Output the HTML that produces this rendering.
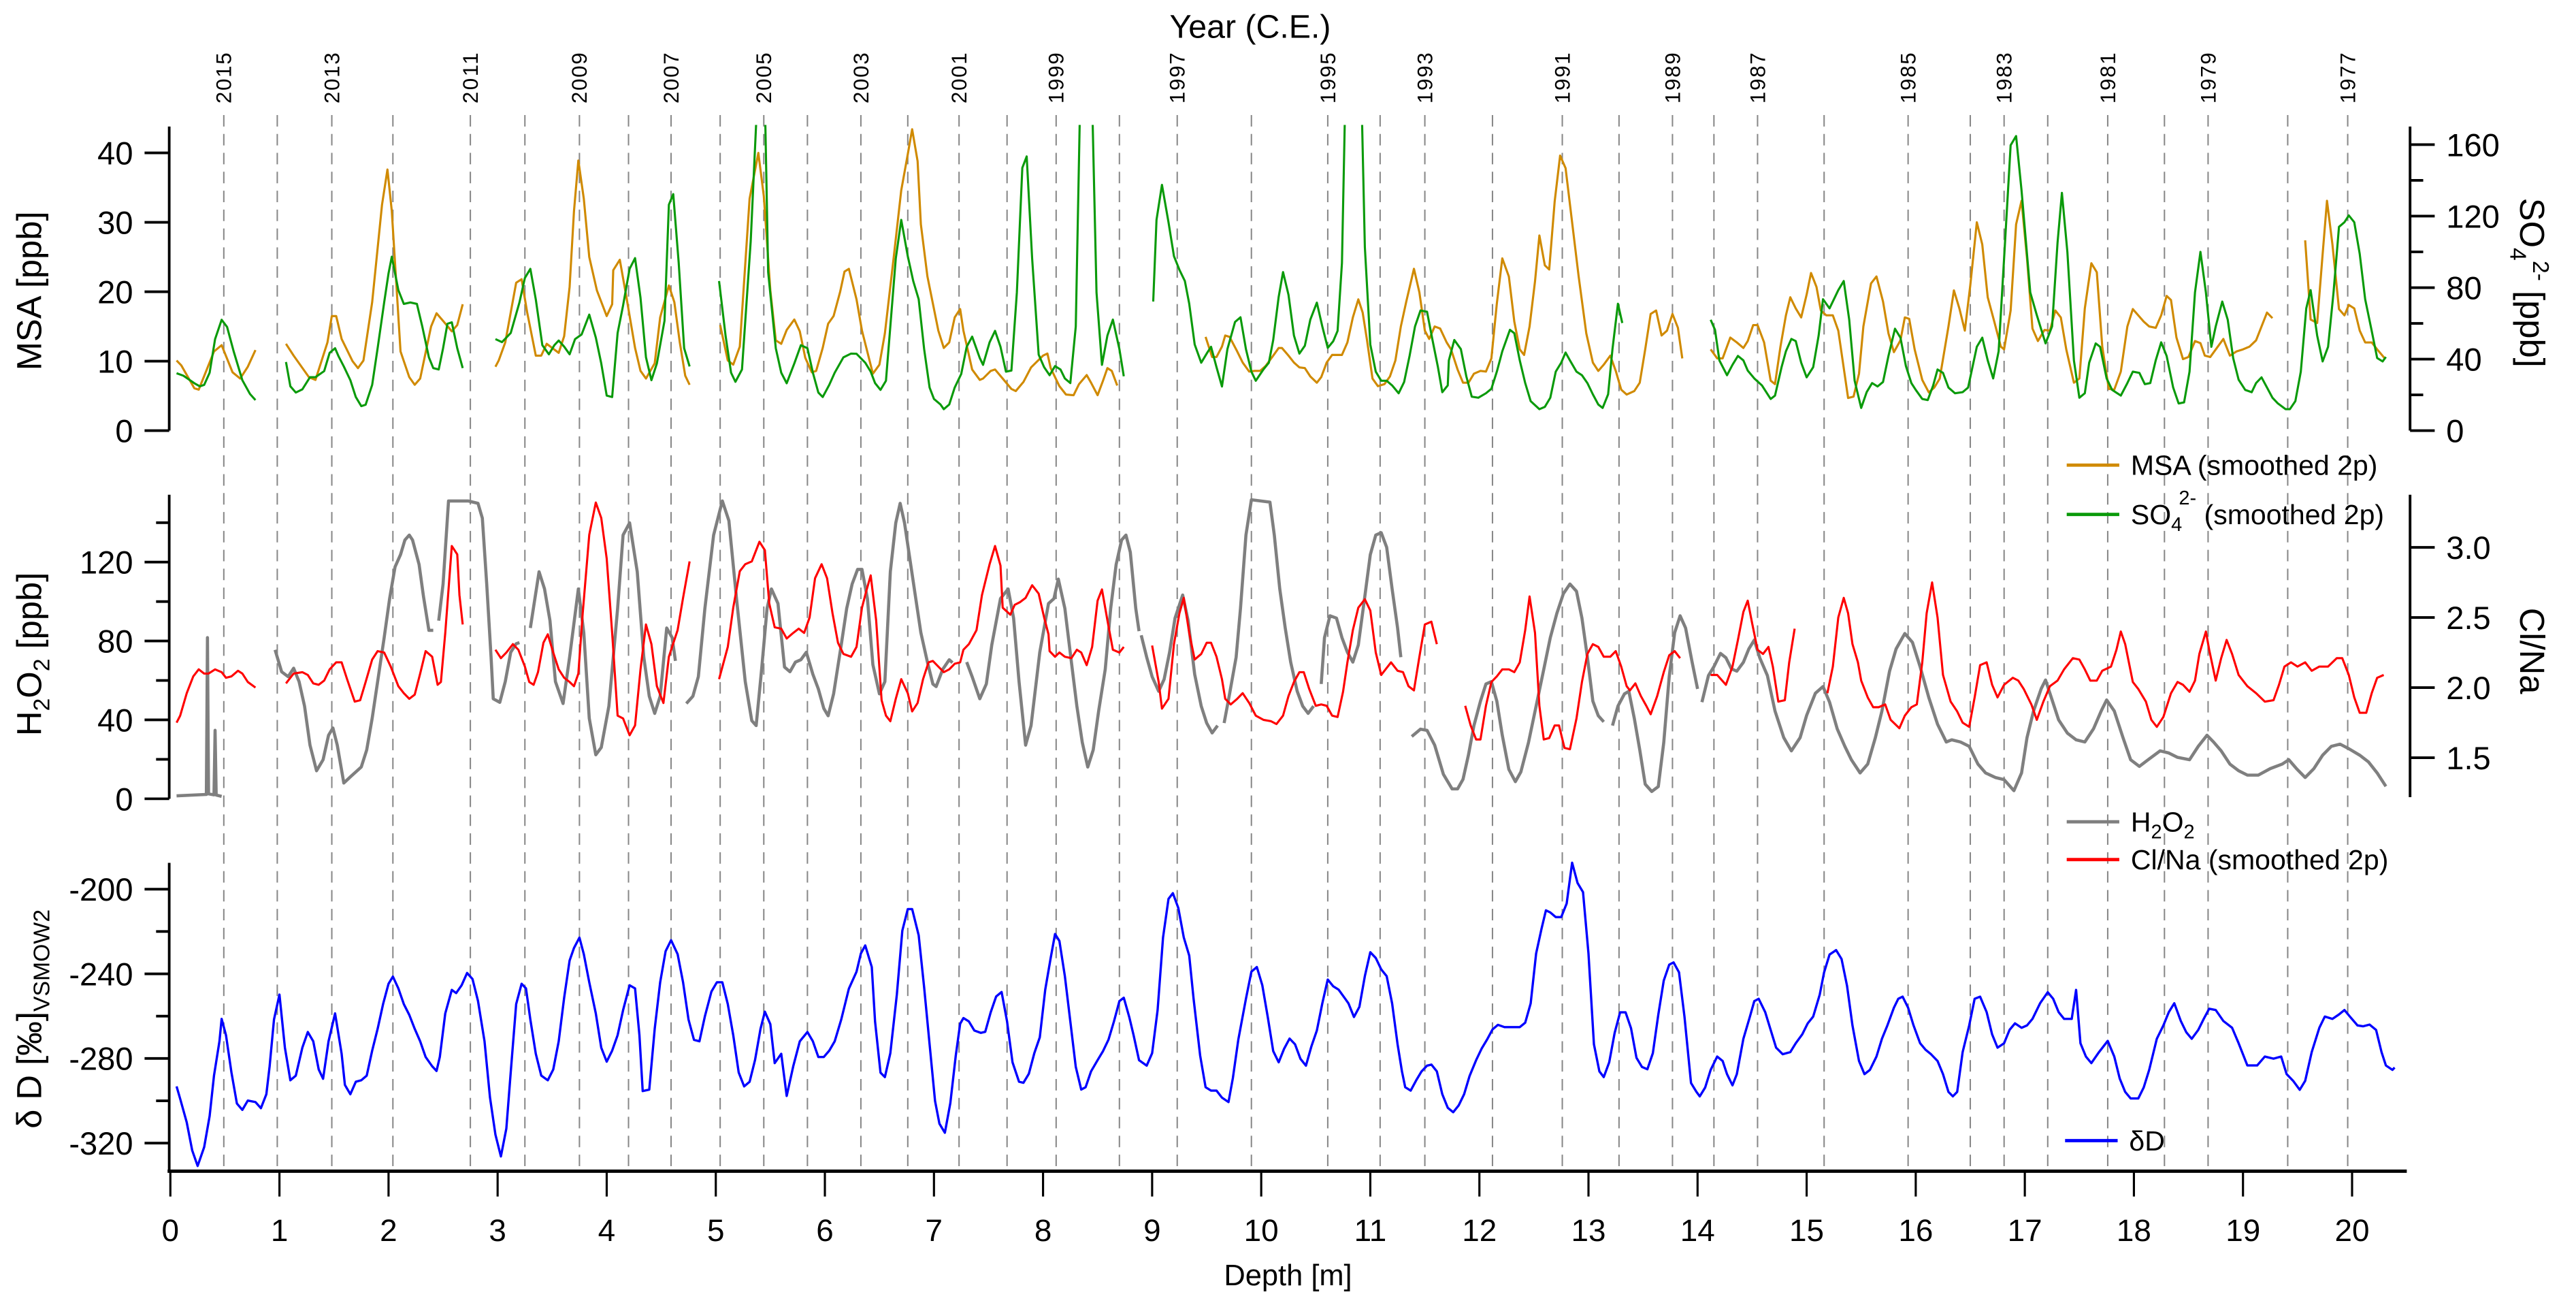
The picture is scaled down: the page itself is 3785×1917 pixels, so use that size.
<!DOCTYPE html>
<html><head><meta charset="utf-8"><title>Ice core chemistry vs depth</title>
<style>
html,body{margin:0;padding:0;background:#fff;}
svg{display:block;font-family:"Liberation Sans",Arial,sans-serif;}
</style></head>
<body>
<svg id="chart" width="3785" height="1917" viewBox="0 0 1568 794" preserveAspectRatio="none" xmlns="http://www.w3.org/2000/svg">
<defs>
<clipPath id="clipTop"><rect x="104" y="76" width="1362" height="190"/></clipPath>
<clipPath id="clipMid"><rect x="104" y="296" width="1362" height="195"/></clipPath>
<clipPath id="clipBot"><rect x="104" y="520" width="1362" height="192"/></clipPath>
</defs>
<g id="yearLines"></g>
<g id="yearLabels"></g>
<text x="761" y="23" font-size="20" text-anchor="middle">Year (C.E.)</text>
<g id="axes"></g>
<g id="series"></g>

<text transform="translate(25,177) rotate(-90)" font-size="21" text-anchor="middle">MSA [ppb]</text>
<text transform="translate(1534,172) rotate(90)" font-size="21" text-anchor="middle">SO<tspan font-size="14" dy="6">4</tspan><tspan font-size="14" dy="-14">2-</tspan><tspan dy="8"> [ppb]</tspan></text>
<text transform="translate(25,398) rotate(-90)" font-size="21" text-anchor="middle">H<tspan font-size="14" dy="5">2</tspan><tspan dy="-5">O</tspan><tspan font-size="14" dy="5">2</tspan><tspan dy="-5"> [ppb]</tspan></text>
<text transform="translate(1534,396) rotate(90)" font-size="21" text-anchor="middle">Cl/Na</text>
<text transform="translate(25,620) rotate(-90)" font-size="21" text-anchor="middle">δ D [‰]<tspan font-size="14" dy="5">VSMOW2</tspan></text>
<text x="784" y="782" font-size="18" text-anchor="middle">Depth [m]</text>

<g><line x1="1258" y1="283" x2="1290" y2="283" stroke="#D08A00" stroke-width="2"/><text x="1297" y="289" font-size="17">MSA (smoothed 2p)</text></g>
<g><line x1="1258" y1="313" x2="1290" y2="313" stroke="#0A9A0A" stroke-width="2"/><text x="1297" y="319" font-size="17">SO<tspan font-size="12" dy="4">4</tspan><tspan font-size="12" dx="-2" dy="-16">2-</tspan><tspan dy="12"> (smoothed 2p)</tspan></text></g>
<g><line x1="1258" y1="500" x2="1290" y2="500" stroke="#7F7F7F" stroke-width="2"/><text x="1297" y="506" font-size="17">H<tspan font-size="12" dy="4">2</tspan><tspan dy="-4">O</tspan><tspan font-size="12" dy="4">2</tspan></text></g>
<g><line x1="1258" y1="523" x2="1290" y2="523" stroke="#FF0000" stroke-width="2"/><text x="1297" y="529" font-size="17">Cl/Na (smoothed 2p)</text></g>
<g><line x1="1257" y1="694" x2="1289" y2="694" stroke="#0000FF" stroke-width="2"/><text x="1296" y="700" font-size="17">δD</text></g>
</svg>
<script>
// ---- data ----
const yearDepths = [0.49,0.98,1.48,2.04,2.75,3.25,3.75,4.20,4.59,5.04,5.44,5.84,6.33,6.76,7.23,7.67,8.12,8.70,9.23,9.91,10.61,11.09,11.50,12.12,12.76,13.28,13.77,14.15,14.55,15.16,15.93,16.50,16.81,17.21,17.76,18.28,18.68,19.41,19.96];
const yearLabelDepths = [0.49,1.48,2.75,3.75,4.59,5.44,6.33,7.23,8.12,9.23,10.61,11.50,12.76,13.77,14.55,15.93,16.81,17.76,18.68,19.96];
const yearLabelText = ["2015","2013","2011","2009","2007","2005","2003","2001","1999","1997","1995","1993","1991","1989","1987","1985","1983","1981","1979","1977"];
const depthTicks = [0,1,2,3,4,5,6,7,8,9,10,11,12,13,14,15,16,17,18,19,20];
const msaTicks = [0,10,20,30,40];
const so4Ticks = [0,40,80,120,160];
const so4Minor = [20,60,100,140];
const h2o2Ticks = [0,40,80,120];
const h2o2Minor = [20,60,100,140];
const clTicks = [1.5,2.0,2.5,3.0];
const ddTicks = [-200,-240,-280,-320];
const ddMinor = [-220,-260,-300];

const msaData = [[0.057,10.1],[0.10,9.4],[0.22,6.1],[0.26,5.9],[0.40,11.4],[0.47,12.3],[0.57,8.4],[0.64,7.5],[0.71,9.2],[0.78,11.6],null,
[1.06,12.5],[1.13,10.8],[1.27,7.7],[1.33,7.3],[1.44,12.7],[1.48,16.5],[1.52,16.5],[1.57,13.2],[1.67,10],[1.72,9],[1.77,10.1],[1.85,18.5],[1.94,32.5],[1.99,37.6],[2.03,31.6],[2.11,11.4],[2.19,7.7],[2.24,6.6],[2.29,7.5],[2.39,15],[2.44,16.9],[2.50,15.8],[2.58,14.3],[2.63,15.2],[2.68,18.2],null,
[2.98,9.2],[3.01,10.1],[3.07,12.7],[3.17,21.3],[3.22,21.8],[3.27,17.1],[3.35,10.8],[3.40,10.8],[3.45,12.5],[3.56,11.2],[3.61,13.6],[3.66,20.7],[3.70,31.6],[3.74,38.9],[3.79,33.4],[3.84,25],[3.91,20.2],[4.0,16.5],[4.05,18.2],[4.06,23.1],[4.12,24.6],[4.18,19.3],[4.26,11.9],[4.31,8.6],[4.36,7.5],[4.44,9.7],[4.49,16.3],[4.57,20.9],[4.62,18.5],[4.67,12.7],[4.72,7.9],[4.76,6.6],null,
[5.04,15.2],[5.11,10.1],[5.16,9.5],[5.22,12.1],[5.31,33.4],[5.39,40],[5.44,33.8],[5.50,20.2],[5.55,13],[5.60,12.5],[5.65,14.5],[5.72,16],[5.77,14.3],[5.82,10.5],[5.88,8.4],[5.92,8.6],[5.98,11.9],[6.03,15.4],[6.08,16.5],[6.14,20],[6.18,22.9],[6.22,23.3],[6.29,18.9],[6.34,14.4],[6.44,8.2],[6.50,9.5],[6.55,14],[6.63,24.8],[6.70,34.6],[6.76,39.8],[6.80,43.4],[6.85,38.8],[6.88,29.7],[6.94,22.2],[6.99,18.3],[7.04,14.4],[7.09,11.9],[7.14,12.7],[7.19,16.3],[7.24,17.5],[7.27,14.4],[7.35,8.8],[7.42,7.3],[7.45,7.5],[7.52,8.6],[7.56,8.8],[7.63,7.5],[7.71,6.0],[7.75,5.7],[7.82,7.0],[7.89,9.1],[8.0,10.8],[8.04,11.1],[8.07,9],[8.15,6.4],[8.21,5.2],[8.28,5.1],[8.33,6.7],[8.40,8],[8.44,6.9],[8.50,5.1],[8.55,7.2],[8.59,9],[8.63,8.6],[8.68,6.5],null,
[9.49,13.5],[9.55,10.6],[9.59,10.6],[9.64,12.1],[9.67,13.7],[9.71,13.5],[9.78,11.4],[9.83,9.8],[9.89,8.5],[9.94,8.6],[9.99,8.6],[10.04,9.3],[10.11,10.8],[10.16,11.9],[10.19,11.9],[10.25,10.8],[10.30,9.8],[10.35,9.1],[10.40,9.0],[10.45,7.8],[10.51,6.9],[10.55,7.7],[10.60,9.8],[10.65,10.9],[10.74,10.9],[10.79,12.7],[10.84,16.3],[10.89,18.9],[10.93,17],[10.97,13],[11.02,7.5],[11.07,6.4],[11.13,6.7],[11.18,7.8],[11.23,10.1],[11.28,15],[11.33,18.6],[11.40,23.3],[11.45,19.9],[11.50,14.4],[11.54,13.2],[11.59,15],[11.64,14.7],[11.70,12.7],[11.74,11.7],[11.80,8.8],[11.85,6.9],[11.90,6.9],[11.95,8.2],[12.01,8.6],[12.06,8.5],[12.11,10.4],[12.16,18.3],[12.21,24.8],[12.27,22.2],[12.32,15.7],[12.37,11.7],[12.41,10.9],[12.46,15],[12.51,21.5],[12.55,28.1],[12.6,23.8],[12.64,23.2],[12.69,33],[12.74,39.6],[12.79,37.8],[12.86,28.7],[12.91,22.2],[12.98,14],[13.04,9.8],[13.09,8.6],[13.14,9.5],[13.20,10.8],[13.25,8.6],[13.30,5.9],[13.35,5.2],[13.42,5.7],[13.47,6.9],[13.52,11.7],[13.57,16.8],[13.62,17.3],[13.67,13.7],[13.72,14.4],[13.77,16.8],[13.82,14.8],[13.86,10.4],null,
[14.12,11.7],[14.18,10.4],[14.23,10.4],[14.30,13.4],[14.36,12.7],[14.42,11.9],[14.46,12.9],[14.51,15.2],[14.55,15.2],[14.61,12.7],[14.67,7.2],[14.71,6.7],[14.76,12.1],[14.81,16.6],[14.85,19.2],[14.90,17.6],[14.95,16.3],[15.00,19.6],[15.04,22.7],[15.09,20.7],[15.13,17.3],[15.18,16.6],[15.24,16.6],[15.29,14.4],[15.33,10.1],[15.38,4.7],[15.43,4.9],[15.48,8.2],[15.52,15],[15.59,21.2],[15.64,22.2],[15.70,18.6],[15.75,14],[15.80,11.3],[15.86,13],[15.90,16.3],[15.94,16.1],[15.99,11.7],[16.06,7.3],[16.12,5.5],[16.17,6.2],[16.22,7.5],[16.30,15],[16.35,20.2],[16.40,17.6],[16.45,14.4],[16.50,20.9],[16.56,30],[16.61,26.8],[16.66,19.2],[16.72,15.7],[16.78,12.1],[16.81,11.7],[16.87,17.3],[16.92,29.7],[16.97,33.1],[17.02,24.8],[17.07,14.7],[17.12,12.9],[17.18,14.5],[17.23,14.4],[17.28,17.3],[17.33,16.3],[17.38,11.7],[17.45,6.9],[17.50,7.5],[17.55,17.6],[17.61,24.1],[17.66,22.8],[17.71,12.1],[17.77,6.0],[17.82,5.9],[17.88,8.5],[17.94,15],[17.99,17.5],[18.04,16.6],[18.09,15.7],[18.14,15],[18.20,14.8],[18.25,16.6],[18.30,19.4],[18.34,18.8],[18.39,13.4],[18.45,10.3],[18.50,10.6],[18.56,12.9],[18.61,12.6],[18.65,10.8],[18.70,10.6],[18.76,11.9],[18.82,13.2],[18.88,10.8],[18.94,11.4],[19.0,11.7],[19.06,12.1],[19.12,13],[19.17,15],[19.22,17],[19.27,16.2],null,
[19.57,27.4],[19.62,16],[19.68,15.5],[19.73,25.4],[19.77,33.1],[19.82,26.8],[19.88,17.5],[19.93,16.6],[19.97,18.1],[20.02,17.6],[20.07,14.4],[20.12,12.7],[20.18,12.7],[20.23,11.7],[20.30,10.4]];

const so4Data = [[0.057,32.1],[0.12,30.7],[0.22,26.5],[0.27,24.8],[0.31,25.6],[0.36,32.4],[0.41,51.2],[0.47,62],[0.52,58],[0.58,44.4],[0.66,28.2],[0.73,20.5],[0.78,17.1],null,
[1.06,38.4],[1.10,24.8],[1.15,21.3],[1.21,23.1],[1.28,29.9],[1.33,29.9],[1.41,33.3],[1.46,43.5],[1.51,46.1],[1.54,41.8],[1.59,35.9],[1.65,28.2],[1.70,18.8],[1.75,13.7],[1.79,14.5],[1.85,25.6],[1.90,46.1],[1.96,71.7],[2.0,88],[2.03,97.3],[2.09,78.6],[2.14,70.9],[2.20,71.7],[2.26,70.9],[2.31,58.1],[2.37,41],[2.41,35],[2.46,34.2],[2.50,46.1],[2.54,59.8],[2.58,60.6],[2.63,46.1],[2.68,35],null,
[2.98,51.2],[3.04,49.5],[3.12,54.6],[3.20,71.7],[3.25,85.4],[3.30,90.5],[3.35,73.4],[3.41,47.8],[3.47,42.7],[3.52,47.8],[3.56,50.4],[3.61,47],[3.66,42.7],[3.71,51.2],[3.77,53.8],[3.84,64.9],[3.90,52.1],[3.95,37.6],[4.0,19.6],[4.05,18.8],[4.10,54.6],[4.15,70],[4.21,90.5],[4.26,96.5],[4.31,74.3],[4.36,41],[4.41,28.2],[4.46,37.6],[4.53,61.5],[4.57,126.4],[4.61,132.3],[4.66,93.9],[4.71,46.1],[4.76,35.9],null,
[5.03,83.7],[5.09,52.9],[5.14,32.4],[5.18,27.3],[5.24,34.2],[5.32,105.9],[5.38,185],[5.45,185],[5.48,88.8],[5.55,46.1],[5.60,32.4],[5.65,26.5],[5.72,37.6],[5.78,47.8],[5.84,46.1],[5.89,32.4],[5.94,21.3],[5.98,18.8],[6.04,25.6],[6.09,32.4],[6.17,41],[6.24,43.1],[6.29,43],[6.37,38],[6.42,33],[6.46,26.6],[6.51,22.8],[6.56,27.9],[6.60,58.3],[6.65,96.3],[6.70,117.9],[6.76,97.6],[6.81,83.7],[6.86,73.5],[6.91,45.6],[6.96,24.1],[7.0,17.7],[7.06,14.6],[7.09,12],[7.14,14.6],[7.19,24.1],[7.25,31.7],[7.30,46.9],[7.35,52.6],[7.42,40.6],[7.45,36.8],[7.51,49.4],[7.56,55.8],[7.61,46.9],[7.66,33],[7.71,33.6],[7.76,77.3],[7.81,147],[7.85,153.4],[7.90,96.3],[7.96,42.5],[8.01,35.5],[8.06,31],[8.11,36.1],[8.16,34.2],[8.20,29.2],[8.25,26.6],[8.30,58.3],[8.34,185],[8.45,185],[8.49,77.3],[8.54,36.8],[8.59,53.2],[8.64,62.1],[8.70,45.6],[8.74,30.4],null,
[9.01,72.2],[9.04,117.9],[9.09,137.5],[9.15,116.6],[9.20,97.6],[9.25,90],[9.30,83.7],[9.34,71],[9.39,48.2],[9.45,38],[9.50,43.1],[9.54,46.9],[9.59,35.5],[9.64,24.7],[9.69,45.6],[9.76,60.8],[9.81,63.4],[9.86,45.6],[9.91,33],[9.95,27.9],[10.02,34.2],[10.07,38],[10.11,50.7],[10.16,74.8],[10.20,88.7],[10.25,76],[10.30,53.2],[10.35,43.1],[10.40,47.5],[10.45,62.1],[10.51,71.6],[10.56,58.3],[10.61,46.3],[10.66,50],[10.70,55.8],[10.74,93.8],[10.77,185],[10.92,185],[10.95,102.7],[11.0,48.2],[11.05,33],[11.10,27.9],[11.15,27.9],[11.20,25.3],[11.26,20.9],[11.31,27.2],[11.36,41.8],[11.41,58.3],[11.46,67.2],[11.52,66.5],[11.57,50.7],[11.62,35.5],[11.66,21.5],[11.71,25.3],[11.72,39.3],[11.77,50.7],[11.83,45.6],[11.88,30.4],[11.93,19],[11.99,18.4],[12.06,20.9],[12.11,23.4],[12.16,33],[12.21,44.4],[12.28,56.4],[12.32,54.5],[12.37,39.3],[12.42,26.6],[12.47,16.5],[12.55,12],[12.6,13.3],[12.65,18.4],[12.70,33],[12.75,38],[12.79,43.7],[12.83,39.3],[12.89,33],[12.94,31],[12.99,26.6],[13.04,20.3],[13.09,14.6],[13.13,12.7],[13.18,20.3],[13.22,45.6],[13.27,71],[13.31,60.2],null,
[14.12,62],[14.16,56.4],[14.20,39.3],[14.27,31],[14.32,36.8],[14.37,41.8],[14.42,39.3],[14.46,33.6],[14.52,29.2],[14.59,25.3],[14.67,17.7],[14.71,19.6],[14.77,35.5],[14.81,44.4],[14.86,51.3],[14.90,50.1],[14.95,38],[15.00,29.8],[15.06,35.5],[15.11,53.2],[15.15,73.5],[15.21,68.4],[15.29,78.6],[15.34,83.7],[15.39,62.1],[15.44,27.9],[15.50,12.7],[15.55,21.5],[15.6,26.6],[15.65,24.7],[15.70,27.2],[15.75,41.8],[15.81,57],[15.86,52],[15.91,36.1],[15.96,26.6],[16.0,22.8],[16.06,17.7],[16.11,17.1],[16.16,25.3],[16.20,34.2],[16.25,32.3],[16.30,24.1],[16.36,20.9],[16.43,21.5],[16.48,24.1],[16.56,46.9],[16.61,52],[16.66,39.3],[16.71,29.2],[16.76,44.4],[16.81,96.3],[16.87,159.7],[16.92,164.8],[16.97,134.3],[17.05,77.3],[17.11,64.6],[17.19,48.8],[17.25,58.3],[17.30,105.2],[17.34,133],[17.39,100],[17.45,39.3],[17.50,18.4],[17.55,20.9],[17.59,38],[17.65,48.8],[17.69,46.9],[17.75,29.2],[17.80,22.8],[17.88,19.6],[17.94,26.6],[17.99,33],[18.05,32.3],[18.10,26],[18.15,26.6],[18.20,39.3],[18.25,49.4],[18.30,41.8],[18.36,24.1],[18.41,15.2],[18.46,15.8],[18.51,33],[18.56,77.3],[18.61,100],[18.66,77.3],[18.71,46.9],[18.75,58.3],[18.81,72.2],[18.86,62.1],[18.91,40.6],[18.96,28.5],[19.02,22.8],[19.08,21.5],[19.12,26.6],[19.17,29.8],[19.22,24.1],[19.27,18.4],[19.32,15.2],[19.39,12],[19.43,12],[19.48,16.5],[19.53,33],[19.58,68.4],[19.62,78.6],[19.68,53.2],[19.73,38.7],[19.78,46.9],[19.83,77.3],[19.88,114],[19.93,116.6],[19.97,120.4],[20.02,116.6],[20.07,98.9],[20.12,73.5],[20.18,55.8],[20.23,40.6],[20.28,38.7],[20.31,41.2]];

const h2o2Data = [[0.057,1.5],[0.33,2.2],[0.34,81.7],[0.35,2.5],[0.40,2],[0.41,34.7],[0.42,1.9],[0.47,1.2],null,
[0.96,75.5],[1.02,64.4],[1.08,61.9],[1.13,66.2],[1.18,59.4],[1.23,47],[1.28,27.2],[1.34,14.2],[1.40,19.8],[1.45,32.2],[1.49,35.9],[1.53,27.2],[1.59,8],[1.65,11.1],[1.70,13.6],[1.75,16.1],[1.80,24.8],[1.85,40.8],[1.90,59.4],[1.96,81.7],[2.01,101.5],[2.06,117.6],[2.11,123.8],[2.15,131.2],[2.19,133.7],[2.22,131.2],[2.28,118.8],[2.32,102.7],[2.37,85.4],[2.41,85.4],null,
[2.46,90.3],[2.50,108.9],[2.55,151],[2.73,151],[2.82,149.8],[2.86,142.3],[2.90,108.9],[2.94,71.8],[2.96,50.7],[3.02,48.9],[3.07,59.4],[3.12,74.3],[3.17,78.6],[3.20,79.2],null,
[3.30,86.6],[3.38,115.1],[3.43,106.4],[3.48,90.3],[3.53,59.4],[3.60,48.3],[3.66,71.8],[3.74,106.4],[3.79,84.2],[3.84,40.8],[3.90,22.3],[3.95,26],[4.02,47],[4.10,96.5],[4.15,133.7],[4.21,139.9],[4.28,115.1],[4.34,71.8],[4.39,52],[4.44,43.3],[4.49,52],[4.55,86.6],[4.60,81.7],[4.63,69.9],null,
[4.73,48.3],[4.79,52],[4.84,61.9],[4.90,96.5],[4.98,133.7],[5.06,151],[5.12,141],[5.19,101.5],[5.27,59.4],[5.33,39.6],[5.37,37.1],[5.42,65.6],[5.47,96.5],[5.51,106.4],[5.57,99],[5.63,66.8],[5.68,64.4],[5.73,69.3],[5.78,70.5],[5.83,74.3],[5.89,63.1],[5.94,55.7],[5.99,45.8],[6.03,42.1],[6.08,53.2],[6.15,78],[6.20,96.5],[6.25,108.9],[6.30,116.3],[6.34,116.3],[6.39,101.5],[6.44,68],[6.50,53.2],[6.55,59.4],[6.60,115.1],[6.65,139.9],[6.69,149.8],[6.73,139.9],[6.78,121.3],[6.83,102.7],[6.88,84.2],[6.94,69.3],[6.99,58.2],[7.02,56.9],[7.08,65.6],[7.14,70.5],[7.17,69],null,
[7.30,69.3],[7.35,61.9],[7.42,50.7],[7.48,58.2],[7.53,78],[7.61,101.5],[7.68,106.4],[7.73,91.6],[7.78,59.4],[7.84,27.2],[7.89,37.1],[7.97,74.3],[8.05,99],[8.10,101.5],[8.14,111.4],[8.20,96.5],[8.26,69.3],[8.31,47],[8.36,28.5],[8.41,16.1],[8.46,24.8],[8.51,44.6],[8.57,65.6],[8.62,96.5],[8.67,118.8],[8.72,131.2],[8.76,133.7],[8.80,125],[8.85,96.5],[8.88,85],null,
[8.90,82.9],[8.95,71.8],[9.0,61.9],[9.06,54.5],[9.11,60.6],[9.16,74.3],[9.21,91.6],[9.28,103.3],[9.33,90.3],[9.39,63.1],[9.45,47],[9.50,38.4],[9.55,33.4],[9.60,37.1],null,
[9.66,38.4],[9.71,53.2],[9.77,71.8],[9.81,96.5],[9.86,133.7],[9.91,151.6],[10.08,150.4],[10.12,133.7],[10.17,106.4],[10.22,86.6],[10.27,69.3],[10.33,54.5],[10.38,47],[10.43,43.3],[10.48,47],null,
[10.55,58.2],[10.58,81.7],[10.63,92.8],[10.69,91.6],[10.74,81.7],[10.79,74.3],[10.84,69.3],[10.89,78],[10.95,102.7],[11.0,123.8],[11.05,133.7],[11.10,134.9],[11.15,127.5],[11.20,106.4],[11.25,86.6],[11.28,71.8],null,
[11.38,31.6],[11.46,35.3],[11.52,34.7],[11.59,27.2],[11.67,12.4],[11.75,5],[11.80,5],[11.85,9.9],[11.90,22.3],[11.95,37.1],[12.01,49.5],[12.06,58.2],[12.11,59.4],[12.16,49.5],[12.21,32.2],[12.27,14.9],[12.33,8.7],[12.38,13.6],[12.45,28.5],[12.52,47],[12.59,65.6],[12.65,81.7],[12.71,94],[12.77,104],[12.83,108.9],[12.89,105.2],[12.94,91.6],[12.99,71.8],[13.04,49.5],[13.09,42.1],[13.14,39],null,
[13.22,37.1],[13.27,47],[13.33,53.2],[13.37,54.5],[13.42,40.8],[13.47,24.8],[13.52,7.4],[13.58,3.7],[13.64,6.2],[13.69,28.5],[13.74,61.9],[13.79,84.2],[13.84,92.8],[13.89,86.6],[13.95,69.3],[14.0,55.7],null,
[14.04,49],[14.10,62.5],[14.15,67],[14.21,73.7],[14.26,71.5],[14.31,65.9],[14.36,64.7],[14.42,69.2],[14.47,76],[14.52,80.5],[14.57,71.5],[14.64,62.5],[14.71,44.5],[14.79,31],[14.86,24.3],[14.94,31],[15.0,42.3],[15.08,53.5],[15.15,56.9],[15.21,49],[15.28,35.5],[15.35,26.6],[15.41,19.8],[15.49,13.1],[15.56,17.6],[15.63,31],[15.69,44.5],[15.76,64.7],[15.82,76],[15.90,83.8],[15.97,79.3],[16.04,67],[16.12,51.3],[16.20,37.8],[16.28,28.8],[16.33,29.9],[16.41,28.8],[16.49,26.6],[16.57,17.6],[16.64,13.1],[16.73,10.8],[16.81,9.7],[16.90,4.1],[16.97,13.1],[17.02,31],[17.08,44.5],[17.15,55.8],[17.19,60.2],[17.23,53.5],[17.31,40],[17.39,33.3],[17.47,29.9],[17.55,28.8],[17.63,35.5],[17.70,44.5],[17.75,50.1],[17.82,44.5],[17.90,31],[17.97,19.8],[18.05,16.4],[18.13,19.8],[18.24,24.3],[18.32,23.2],[18.40,21],[18.51,19.8],[18.59,26.6],[18.67,32.2],[18.73,28.8],[18.80,24.3],[18.88,17.6],[18.96,14.2],[19.04,12],[19.14,12],[19.25,15.3],[19.36,17.6],[19.42,19.8],[19.49,15.3],[19.57,10.8],[19.65,15.3],[19.73,22.1],[19.81,26.6],[19.89,27.7],[19.97,25.4],[20.07,22.1],[20.15,18.7],[20.23,13.1],[20.31,6.3]];

const clnaData = [[0.057,1.75],[0.09,1.80],[0.15,1.96],[0.21,2.08],[0.26,2.13],[0.31,2.10],[0.35,2.10],[0.41,2.13],[0.47,2.11],[0.51,2.07],[0.56,2.08],[0.62,2.12],[0.66,2.10],[0.71,2.04],[0.78,2.0],null,
[1.06,2.03],[1.13,2.10],[1.21,2.11],[1.26,2.09],[1.31,2.03],[1.36,2.02],[1.41,2.05],[1.46,2.13],[1.52,2.18],[1.57,2.18],[1.62,2.06],[1.69,1.90],[1.74,1.91],[1.79,2.04],[1.85,2.20],[1.90,2.26],[1.96,2.25],[2.02,2.15],[2.09,2.01],[2.14,1.96],[2.19,1.92],[2.24,1.95],[2.29,2.10],[2.34,2.26],[2.40,2.22],[2.45,2.02],[2.48,2.04],[2.52,2.39],[2.58,3.01],[2.63,2.95],[2.65,2.66],[2.68,2.45],null,
[2.98,2.27],[3.03,2.21],[3.08,2.25],[3.14,2.31],[3.19,2.27],[3.25,2.15],[3.29,2.04],[3.33,2.02],[3.37,2.11],[3.42,2.32],[3.46,2.38],[3.51,2.25],[3.56,2.13],[3.61,2.07],[3.66,2.04],[3.70,2.01],[3.74,2.10],[3.78,2.53],[3.84,3.09],[3.90,3.32],[3.95,3.21],[4.0,2.92],[4.05,2.39],[4.10,1.80],[4.15,1.78],[4.21,1.66],[4.26,1.73],[4.31,2.13],[4.36,2.45],[4.41,2.31],[4.46,2.01],[4.52,1.89],[4.57,2.22],[4.65,2.41],[4.70,2.64],[4.76,2.90],null,
[5.03,2.06],[5.11,2.29],[5.16,2.57],[5.22,2.83],[5.27,2.88],[5.33,2.90],[5.40,3.04],[5.45,2.98],[5.49,2.60],[5.54,2.43],[5.60,2.42],[5.65,2.35],[5.71,2.39],[5.76,2.42],[5.81,2.39],[5.86,2.50],[5.91,2.78],[5.97,2.88],[6.02,2.78],[6.07,2.53],[6.12,2.32],[6.17,2.24],[6.24,2.22],[6.29,2.29],[6.34,2.57],[6.38,2.69],[6.42,2.80],[6.47,2.48],[6.52,1.91],[6.56,1.80],[6.60,1.76],[6.65,1.92],[6.70,2.06],[6.76,1.96],[6.80,1.83],[6.85,1.89],[6.90,2.06],[6.95,2.18],[6.99,2.19],[7.04,2.15],[7.09,2.11],[7.14,2.13],[7.19,2.17],[7.24,2.18],[7.27,2.27],[7.32,2.31],[7.39,2.41],[7.44,2.66],[7.51,2.88],[7.56,3.01],[7.61,2.87],[7.63,2.57],[7.70,2.52],[7.74,2.59],[7.79,2.61],[7.84,2.64],[7.90,2.73],[7.96,2.67],[8.01,2.50],[8.05,2.38],[8.06,2.26],[8.11,2.22],[8.15,2.25],[8.20,2.22],[8.26,2.21],[8.31,2.27],[8.35,2.25],[8.40,2.16],[8.45,2.29],[8.50,2.62],[8.54,2.70],[8.59,2.48],[8.64,2.27],[8.70,2.25],[8.74,2.29],null,
[9.0,2.30],[9.06,2.04],[9.09,1.85],[9.15,1.92],[9.20,2.31],[9.25,2.53],[9.29,2.64],[9.34,2.39],[9.39,2.20],[9.45,2.24],[9.50,2.32],[9.54,2.32],[9.59,2.22],[9.64,2.06],[9.67,1.92],[9.72,1.88],[9.78,1.92],[9.83,1.96],[9.89,1.89],[9.95,1.80],[10.02,1.77],[10.09,1.76],[10.14,1.74],[10.2,1.80],[10.25,1.94],[10.30,2.04],[10.35,2.11],[10.39,2.11],[10.44,1.99],[10.50,1.87],[10.55,1.88],[10.60,1.87],[10.65,1.80],[10.70,1.79],[10.75,1.97],[10.79,2.18],[10.84,2.41],[10.89,2.57],[10.95,2.63],[11.0,2.55],[11.05,2.25],[11.10,2.09],[11.15,2.14],[11.19,2.18],[11.25,2.12],[11.30,2.11],[11.35,2.01],[11.40,1.98],[11.45,2.22],[11.50,2.45],[11.56,2.47],[11.61,2.31],null,
[11.87,1.87],[11.92,1.73],[11.97,1.63],[12.01,1.63],[12.06,1.87],[12.11,2.04],[12.16,2.08],[12.21,2.13],[12.27,2.13],[12.32,2.11],[12.37,2.18],[12.42,2.41],[12.46,2.65],[12.51,2.39],[12.55,1.87],[12.59,1.63],[12.64,1.64],[12.69,1.73],[12.73,1.73],[12.78,1.57],[12.83,1.56],[12.89,1.78],[12.94,2.04],[12.99,2.24],[13.04,2.31],[13.09,2.29],[13.14,2.22],[13.20,2.22],[13.25,2.26],[13.30,2.15],[13.35,2.01],[13.38,1.98],[13.43,2.03],[13.48,1.94],[13.53,1.87],[13.57,1.81],[13.63,1.94],[13.69,2.11],[13.74,2.23],[13.79,2.26],[13.84,2.21],null,
[14.12,2.09],[14.18,2.09],[14.26,2.02],[14.32,2.15],[14.37,2.34],[14.42,2.54],[14.46,2.62],[14.50,2.46],[14.55,2.27],[14.60,2.24],[14.65,2.29],[14.69,2.15],[14.74,1.90],[14.80,1.91],[14.84,2.18],[14.89,2.42],null,
[15.19,1.96],[15.24,2.15],[15.29,2.50],[15.34,2.64],[15.38,2.53],[15.42,2.31],[15.47,2.18],[15.50,2.05],[15.56,1.93],[15.61,1.86],[15.66,1.86],[15.72,1.88],[15.77,1.77],[15.85,1.71],[15.90,1.80],[15.96,1.86],[16.01,1.88],[16.06,2.18],[16.10,2.53],[16.15,2.75],[16.20,2.50],[16.25,2.09],[16.32,1.90],[16.38,1.83],[16.43,1.75],[16.49,1.72],[16.54,1.93],[16.59,2.16],[16.65,2.18],[16.70,2.02],[16.75,1.93],[16.81,2.02],[16.89,2.07],[16.94,2.05],[16.99,1.99],[17.06,1.88],[17.11,1.77],[17.17,1.90],[17.23,2.01],[17.30,2.05],[17.36,2.13],[17.44,2.21],[17.50,2.20],[17.55,2.13],[17.60,2.05],[17.66,2.05],[17.71,2.12],[17.79,2.15],[17.84,2.27],[17.88,2.40],[17.92,2.31],[17.99,2.04],[18.04,1.99],[18.11,1.90],[18.16,1.77],[18.21,1.72],[18.27,1.79],[18.34,1.96],[18.40,2.04],[18.45,2.02],[18.51,1.97],[18.56,2.05],[18.60,2.24],[18.66,2.40],[18.69,2.27],[18.75,2.05],[18.80,2.21],[18.85,2.34],[18.90,2.24],[18.96,2.09],[19.04,2.01],[19.12,1.96],[19.20,1.90],[19.28,1.91],[19.33,2.02],[19.38,2.15],[19.44,2.18],[19.50,2.15],[19.57,2.18],[19.63,2.12],[19.70,2.15],[19.78,2.15],[19.86,2.21],[19.91,2.21],[19.97,2.09],[20.02,1.93],[20.07,1.82],[20.13,1.82],[20.18,1.96],[20.23,2.07],[20.29,2.09]];

const ddData = [[0.057,-293.2],[0.09,-299.1],[0.15,-310.2],[0.20,-323.4],[0.25,-330.8],[0.31,-321.9],[0.36,-307.2],[0.40,-288.1],[0.45,-271.9],[0.47,-261.3],[0.51,-269],[0.56,-286.6],[0.61,-301.3],[0.66,-304.3],[0.71,-299.9],[0.78,-300.6],[0.83,-303.5],[0.88,-296.9],[0.91,-283.7],[0.95,-261.6],[1.0,-249.8],[1.05,-274.9],[1.10,-290.3],[1.15,-288.1],[1.21,-274.9],[1.26,-267.5],[1.31,-271.9],[1.36,-285.2],[1.40,-289.6],[1.45,-271.9],[1.51,-258.7],[1.57,-277.8],[1.60,-292.5],[1.65,-296.9],[1.70,-291],[1.75,-290.3],[1.80,-288.1],[1.85,-276.3],[1.90,-266],[1.95,-254.3],[2.0,-244.7],[2.04,-241.3],[2.09,-246.9],[2.14,-254.3],[2.19,-259.4],[2.24,-266],[2.29,-271.9],[2.34,-279.3],[2.40,-283.7],[2.44,-285.9],[2.47,-279.3],[2.52,-258.7],[2.58,-247.6],[2.62,-249.1],[2.67,-245.4],[2.72,-239.6],[2.77,-242.5],[2.82,-252.8],[2.88,-271.9],[2.93,-298.4],[2.98,-316],[3.03,-326.3],[3.08,-313.1],[3.12,-286.6],[3.17,-254.3],[3.22,-244.7],[3.26,-246.9],[3.30,-261.6],[3.35,-277.8],[3.40,-288.1],[3.46,-290.3],[3.51,-285.2],[3.56,-271.9],[3.61,-251.3],[3.66,-233.7],[3.70,-227.8],[3.75,-222.9],[3.79,-230.7],[3.84,-244],[3.90,-258.7],[3.95,-274.9],[4.0,-281.5],[4.05,-276.3],[4.10,-269],[4.15,-257.2],[4.21,-245.4],[4.26,-246.9],[4.30,-269],[4.33,-295.4],[4.39,-294.7],[4.44,-266],[4.49,-244],[4.54,-229.3],[4.59,-224.1],[4.65,-230.7],[4.70,-244],[4.75,-261.6],[4.80,-271.2],[4.85,-271.9],[4.90,-260.1],[4.96,-248.4],[5.01,-244],[5.06,-244],[5.11,-254.3],[5.16,-269],[5.21,-286.6],[5.26,-293.2],[5.31,-291],[5.36,-280.7],[5.41,-266],[5.45,-257.9],[5.50,-263.8],[5.54,-282.2],[5.60,-277.8],[5.65,-297.7],[5.71,-283.7],[5.77,-271.9],[5.84,-267.5],[5.89,-271.9],[5.94,-279.3],[5.99,-279.3],[6.04,-276.3],[6.09,-271.9],[6.15,-261.6],[6.22,-247],[6.29,-239],[6.33,-230.4],[6.37,-226.6],[6.43,-236.8],[6.46,-262.5],[6.51,-286.7],[6.55,-288.8],[6.60,-277.5],[6.66,-249.7],[6.71,-219.6],[6.76,-209.4],[6.80,-209.4],[6.86,-221.8],[6.91,-246.4],[6.96,-273.3],[7.01,-300.1],[7.05,-310.8],[7.10,-315.1],[7.15,-301.1],[7.20,-278.6],[7.24,-263.6],[7.27,-260.9],[7.32,-262.5],[7.37,-266.8],[7.43,-267.9],[7.47,-267.4],[7.52,-258.2],[7.57,-250.7],[7.62,-248.6],[7.67,-262.5],[7.72,-281.8],[7.78,-291],[7.82,-291.5],[7.87,-287.2],[7.92,-277.5],[7.97,-270],[8.02,-247.5],[8.07,-232.5],[8.11,-221.2],[8.15,-224.5],[8.20,-241.1],[8.25,-262.5],[8.30,-284],[8.35,-294.7],[8.39,-293.6],[8.44,-286.1],[8.50,-280.8],[8.55,-276.5],[8.60,-271.1],[8.65,-262.5],[8.70,-252.9],[8.74,-251.3],[8.79,-260.4],[8.83,-269],[8.88,-280.8],[8.95,-283.4],[9.0,-277.5],[9.05,-257.2],[9.10,-222.8],[9.15,-204.6],[9.19,-201.9],[9.24,-208.9],[9.29,-222.8],[9.34,-231.4],[9.38,-251.8],[9.44,-278.6],[9.49,-293.6],[9.54,-295.2],[9.59,-295.2],[9.64,-298.5],[9.70,-300.6],[9.74,-289.3],[9.79,-271.1],[9.86,-251.8],[9.91,-239],[9.96,-236.8],[10.01,-245.4],[10.06,-260.4],[10.11,-276.5],[10.16,-281.8],[10.21,-275.4],[10.26,-270.6],[10.31,-273.3],[10.36,-280.2],[10.41,-283.4],[10.46,-274.3],[10.51,-266.8],[10.56,-254],[10.61,-242.7],[10.66,-245.9],[10.71,-247.5],[10.77,-251.8],[10.80,-254],[10.85,-260.4],[10.90,-255.6],[10.95,-241.1],[11.0,-229.8],[11.05,-232.5],[11.10,-237.9],[11.15,-241.1],[11.20,-254],[11.25,-273.3],[11.29,-286.1],[11.32,-293.6],[11.37,-295.2],[11.42,-290.4],[11.47,-286.1],[11.52,-283.4],[11.56,-282.9],[11.61,-286.1],[11.66,-296.9],[11.71,-303.3],[11.76,-305.4],[11.81,-302.2],[11.86,-296.9],[11.91,-288.3],[11.97,-280.8],[12.02,-275.4],[12.07,-271.1],[12.12,-266.3],[12.17,-264.1],[12.23,-265.2],[12.31,-265.2],[12.37,-265.2],[12.42,-263.1],[12.47,-254],[12.52,-230.4],[12.57,-218.6],[12.61,-210],[12.65,-211],[12.70,-213.2],[12.75,-213.2],[12.80,-206.8],[12.85,-187.5],[12.90,-197.1],[12.95,-201.4],[13.0,-230.4],[13.05,-273.3],[13.10,-286.1],[13.14,-288.8],[13.19,-281.8],[13.24,-267.9],[13.29,-258.2],[13.34,-258.2],[13.39,-265.7],[13.44,-279.7],[13.49,-284],[13.54,-285.1],[13.59,-277.5],[13.64,-259.3],[13.69,-243.2],[13.74,-235.7],[13.78,-234.6],[13.83,-239.3],[13.88,-260.2],[13.94,-291.6],[13.99,-295.8],[14.02,-297.9],[14.07,-293.7],[14.12,-285.4],[14.18,-279.1],[14.23,-281.2],[14.27,-287.4],[14.32,-292.7],[14.36,-287.4],[14.42,-270.7],[14.48,-260.2],[14.52,-252.9],[14.56,-251.8],[14.62,-258.1],[14.67,-266.5],[14.72,-274.9],[14.78,-278],[14.85,-277],[14.90,-272.8],[14.96,-268.6],[15.01,-263.4],[15.06,-260.2],[15.12,-249.8],[15.16,-239.3],[15.21,-230.9],[15.27,-228.8],[15.32,-233],[15.37,-245.6],[15.42,-264.4],[15.48,-281.2],[15.53,-287.4],[15.58,-285.4],[15.64,-279.1],[15.69,-270.7],[15.74,-264.4],[15.80,-256],[15.84,-251.8],[15.88,-250.8],[15.93,-256],[15.98,-264.4],[16.04,-272.8],[16.09,-275.9],[16.14,-278],[16.20,-281.2],[16.25,-287.4],[16.30,-295.8],[16.34,-297.9],[16.38,-295.8],[16.43,-277],[16.49,-264.4],[16.54,-251.8],[16.59,-250.8],[16.65,-258.1],[16.70,-268.6],[16.75,-274.9],[16.81,-272.8],[16.86,-266.5],[16.91,-263.4],[16.97,-265.5],[17.02,-264.4],[17.07,-261.3],[17.14,-253.9],[17.21,-248.7],[17.26,-251.8],[17.31,-258.1],[17.36,-261.3],[17.43,-261.3],[17.47,-247.6],[17.51,-272.8],[17.56,-279.1],[17.61,-282.2],[17.68,-277],[17.76,-271.7],[17.82,-279.1],[17.87,-289.5],[17.92,-295.8],[17.97,-298.9],[18.04,-298.9],[18.09,-293.7],[18.14,-285.4],[18.21,-270.7],[18.27,-264.4],[18.32,-258.1],[18.37,-253.9],[18.43,-262.3],[18.48,-267.6],[18.53,-270.7],[18.59,-266.5],[18.64,-261.3],[18.69,-256.5],[18.75,-257.1],[18.82,-262.3],[18.90,-265.5],[18.96,-272.8],[19.04,-283.3],[19.13,-283.3],[19.20,-279.1],[19.28,-280.1],[19.35,-279.1],[19.40,-287.4],[19.46,-290.6],[19.52,-294.8],[19.57,-290.6],[19.63,-277],[19.70,-265.5],[19.75,-260.2],[19.82,-261.3],[19.88,-259.2],[19.93,-257.1],[19.98,-260.2],[20.05,-264.4],[20.10,-264.8],[20.16,-264],[20.22,-266.5],[20.27,-277],[20.31,-283.3],[20.37,-285.4],[20.39,-284.3]];

// ---- scales ----
const NS = "http://www.w3.org/2000/svg";
function xS(d){ return 103.7 + 66.4*d; }
function yMSA(v){ return 262 - 4.225*v; }
function ySO4(v){ return 262 - 1.0875*v; }
function yH2O2(v){ return 486 - 1.2*v; }
function yCl(v){ return 461 - 85.3*(v-1.5); }
function yDD(v){ return 541 - 1.2875*(v+200); }

function mk(tag, attrs, parent){
  const e = document.createElementNS(NS, tag);
  for (const k in attrs) e.setAttribute(k, attrs[k]);
  parent.appendChild(e);
  return e;
}
const axes = document.getElementById('axes');
const series = document.getElementById('series');
const yl = document.getElementById('yearLines');
const ylab = document.getElementById('yearLabels');

yearDepths.forEach(function(d){
  const l = mk('line', {x1:xS(d), x2:xS(d), y1:70, y2:712, stroke:'#888', 'stroke-width':0.85, 'stroke-dasharray':'7,4.5'}, yl);
  
  
});
yearLabelDepths.forEach(function(d, i){
  const t = mk('text', {transform:'translate('+(xS(d)+4.5)+',63) rotate(-90)', 'font-size':13, textLength:31, lengthAdjust:'spacing'}, ylab);
  t.textContent = yearLabelText[i];
  
  
});

function vAxis(x, y1, y2, name){
  const l = mk('line', {x1:x, x2:x, y1:y1, y2:y2, stroke:'#000', 'stroke-width':1.6}, axes);
  
  
}
function vTicks(x, vals, yf, dir, len, labels, labelFmt, name){
  vals.forEach(function(v){
    const y = yf(v);
    const tk = mk('line', {x1:x, x2:x+dir*len, y1:y, y2:y, stroke:'#000', 'stroke-width':1.6}, axes);
    
    
    if (labels){
      const t = mk('text', {x: dir<0 ? x-22 : x+22, y: y+7, 'font-size':19.5, 'text-anchor': dir<0 ? 'end':'start'}, axes);
      t.textContent = labelFmt(v);
      
      
    }
  });
}
vAxis(103, 77, 262, 'msa-axis');
vTicks(103, msaTicks, yMSA, -1, 15, true, String, 'msa-axis');
vAxis(1467, 77, 262, 'so4-axis');
vTicks(1467, so4Ticks, ySO4, 1, 15, true, String, 'so4-axis');
vTicks(1467, so4Minor, ySO4, 1, 8, false, String, 'so4-axis-minor');
vAxis(103, 301, 486, 'h2o2-axis');
vTicks(103, h2o2Ticks, yH2O2, -1, 15, true, String, 'h2o2-axis');
vTicks(103, h2o2Minor, yH2O2, -1, 8, false, String, 'h2o2-axis-minor');
vAxis(1467, 301, 485, 'clna-axis');
vTicks(1467, clTicks, yCl, 1, 15, true, function(v){return v.toFixed(1);}, 'clna-axis');
vAxis(103, 525, 712, 'dd-axis');
vTicks(103, ddTicks, yDD, -1, 15, true, String, 'dd-axis');
vTicks(103, ddMinor, yDD, -1, 8, false, String, 'dd-axis-minor');
const xa = mk('line', {x1:102, x2:1465, y1:712.6, y2:712.6, stroke:'#000', 'stroke-width':2}, axes);


depthTicks.forEach(function(d){
  const tk = mk('line', {x1:xS(d), x2:xS(d), y1:712.6, y2:728, stroke:'#000', 'stroke-width':1.3}, axes);
  
  
  const t = mk('text', {x:xS(d), y:755, 'font-size':19, 'text-anchor':'middle'}, axes);
  t.textContent = String(d);
  
  
});

function drawSeries(data, yf, color, clip, name, width){
  let d = '', pen = false;
  data.forEach(function(p){
    if (p === null){ pen = false; return; }
    d += (pen ? 'L' : 'M') + xS(p[0]).toFixed(2) + ',' + yf(p[1]).toFixed(2);
    pen = true;
  });
  const path = mk('path', {d:d, fill:'none', stroke:color, 'stroke-width':width, 'stroke-linejoin':'round', 'clip-path':'url(#'+clip+')'}, series);
  
  
}
drawSeries(msaData, yMSA, '#D08A00', 'clipTop', 'msa-line', 1.3);
drawSeries(so4Data, ySO4, '#0A9A0A', 'clipTop', 'so4-line', 1.3);
drawSeries(h2o2Data, yH2O2, '#7F7F7F', 'clipMid', 'h2o2-line', 1.9);
drawSeries(clnaData, yCl, '#FF0000', 'clipMid', 'clna-line', 1.3);
drawSeries(ddData, yDD, '#0000FF', 'clipBot', 'dd-line', 1.4);
</script>
</body></html>
